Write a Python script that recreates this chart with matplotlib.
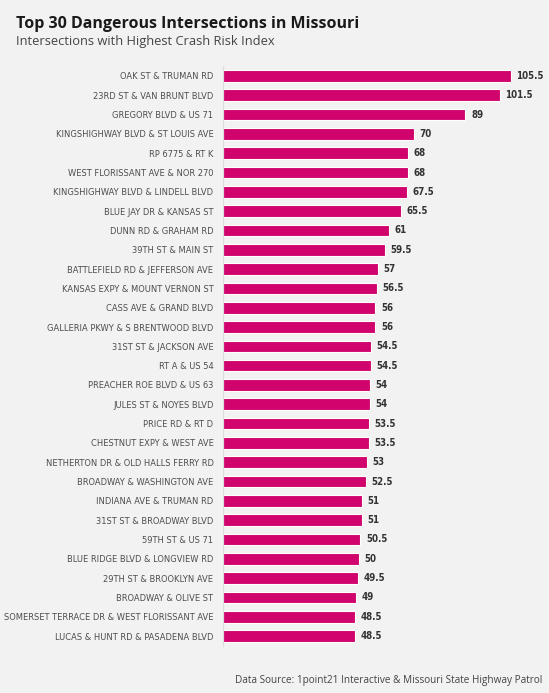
import matplotlib.pyplot as plt
from matplotlib import font_manager
from matplotlib.font_manager import FontProperties

# data
names = ['OAK ST & TRUMAN RD', '23RD ST & VAN BRUNT BLVD', 'GREGORY BLVD & US 71',
         'KINGSHIGHWAY BLVD & ST LOUIS AVE', 'RP 6775 & RT K', 'WEST FLORISSANT AVE & NOR 270',
         'KINGSHIGHWAY BLVD & LINDELL BLVD', 'BLUE JAY DR & KANSAS ST', 'DUNN RD & GRAHAM RD',
         '39TH ST & MAIN ST', 'BATTLEFIELD RD & JEFFERSON AVE', 'KANSAS EXPY & MOUNT VERNON ST',
         'CASS AVE & GRAND BLVD', 'GALLERIA PKWY & S BRENTWOOD BLVD', '31ST ST & JACKSON AVE',
         'RT A & US 54', 'PREACHER ROE BLVD & US 63', 'JULES ST & NOYES BLVD', 'PRICE RD & RT D',
         'CHESTNUT EXPY & WEST AVE', 'NETHERTON DR & OLD HALLS FERRY RD', 'BROADWAY & WASHINGTON AVE',
         'INDIANA AVE & TRUMAN RD', '31ST ST & BROADWAY BLVD', '59TH ST & US 71',
         'BLUE RIDGE BLVD & LONGVIEW RD', '29TH ST & BROOKLYN AVE', 'BROADWAY & OLIVE ST',
         'SOMERSET TERRACE DR & WEST FLORISSANT AVE', 'LUCAS & HUNT RD & PASADENA BLVD']
scores = [105.5, 101.5, 89, 70, 68, 68, 67.5, 65.5, 61, 59.5, 57, 56.5, 56, 56, 54.5,
          54.5, 54, 54, 53.5, 53.5, 53, 52.5, 51, 51, 50.5, 50, 49.5, 49, 48.5, 48.5]


# look for a condensed / narrow face, else fall back to Roboto
def find_cond(bold):
    for f in font_manager.fontManager.ttflist:
        narrow = (str(f.stretch) in ('condensed', 'semi-condensed', 'extra-condensed')
                  or 'Condensed' in f.fname or 'Narrow' in f.fname or 'Narrow' in f.name)
        if not narrow or f.style != 'normal' or 'Mono' in f.name:
            continue
        w = f.weight if isinstance(f.weight, int) else (700 if f.weight == 'bold' else 400)
        fn = f.fname.split('/')[-1]
        if bold and (w >= 600 or 'Bold' in fn) and 'Extra' not in fn:
            return FontProperties(fname=f.fname)
        if not bold and w < 600 and 'Bold' not in fn and 'Light' not in fn:
            return FontProperties(fname=f.fname)
    return FontProperties(family='Roboto', weight='bold' if bold else 'normal')

fp_lab = find_cond(False)
fp_val = find_cond(True)
body = 'Open Sans'

bg = '#f2f2f2'
barcol = '#d0046c'

W, H = 549, 693
fig = plt.figure(figsize=(W/100, H/100), dpi=100, facecolor=bg)

top_px, bot_px = 66.3, 645.7
x0 = 222.5
ax = fig.add_axes([x0/W, 1-bot_px/H, (W-x0)/W, (bot_px-top_px)/H])
ax.set_facecolor(bg)

ypos = list(range(len(names)))
ax.barh(ypos, scores, height=0.6, color=barcol, edgecolor='white', linewidth=0.8)
fp_val.set_size(7)
for y, v in zip(ypos, scores):
    ax.annotate('%g' % v, (v, y), xytext=(4, 0), textcoords='offset points',
                va='center', ha='left', fontproperties=fp_val, color='#333333')

ax.set_ylim(len(names)-0.5, -0.5)
ax.set_xlim(0, (W-x0)/2.73)
ax.set_yticks(ypos)
fp_lab.set_size(6.65)
ax.set_yticklabels(names, fontproperties=fp_lab, color='#4d4d4d')
ax.tick_params(axis='y', length=0, pad=6.5)
ax.set_xticks([])
for s in ['top', 'right', 'bottom']:
    ax.spines[s].set_visible(False)
ax.spines['left'].set_color('#dddddd')
ax.spines['left'].set_linewidth(0.8)

# titles
fig.text(16.5/W, 1-28.3/H, 'Top 30 Dangerous Intersections in Missouri',
         fontsize=11.5, fontweight='bold', color='#1a1a1a', family=body, va='baseline')
fig.text(16.5/W, 1-45.3/H, 'Intersections with Highest Crash Risk Index',
         fontsize=9.3, color='#444444', family=body, va='baseline')
fig.text(542/W, 1-682.7/H, 'Data Source: 1point21 Interactive & Missouri State Highway Patrol',
         fontsize=7.2, color='#444444', family=body, va='baseline', ha='right')

fig.savefig('out.png', dpi=100, facecolor=bg)
